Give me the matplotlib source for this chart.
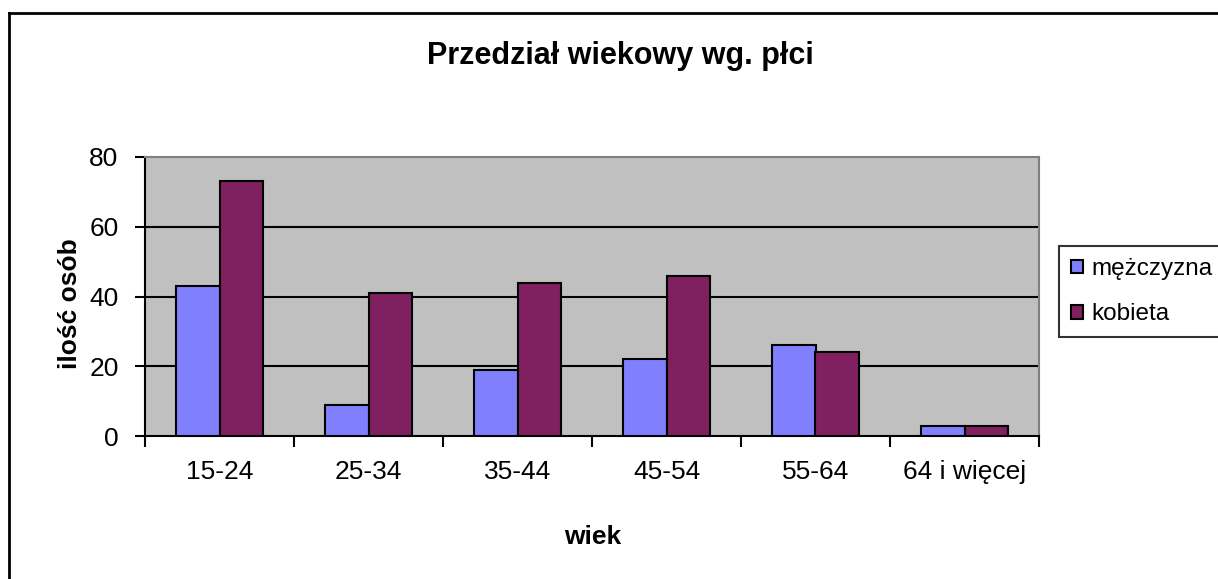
import matplotlib.pyplot as plt
import numpy as np
from matplotlib.lines import Line2D

# age groups and counts
categories = ["15-24", "25-34", "35-44", "45-54", "55-64", "64 i więcej"]
men = [43, 9, 19, 22, 26, 3]
women = [73, 41, 44, 46, 24, 3]
yticks = [0, 20, 40, 60, 80]

plt.rcParams['font.family'] = ['Liberation Sans', 'DejaVu Sans']

W, H = 1218, 579
fig = plt.figure(figsize=(W / 100, H / 100), dpi=100)
ax = fig.add_axes([145 / W, 1 - 436 / H, (1039 - 145) / W, (436 - 157) / H])
ax.set_facecolor('#C0C0C0')

x = np.arange(len(categories))
w = 0.29                                    # excel gap width ~150%
ax.bar(x - w / 2, men, w, color='#8080FF', edgecolor='black', linewidth=1.5,
       label='mężczyzna', zorder=3)
ax.bar(x + w / 2, women, w, color='#802060', edgecolor='black', linewidth=1.5,
       label='kobieta', zorder=3)

ax.set_xlim(-0.5, len(categories) - 0.5)
ax.set_ylim(0, 80)
ax.set_yticks(yticks)
ax.set_xticks(x)
ax.set_xticklabels(categories)
ax.set_xticks(np.arange(-0.5, len(categories), 1), minor=True)
ax.tick_params(axis='x', which='major', length=0, pad=17, labelsize=19)
ax.tick_params(axis='x', which='minor', length=8, width=1.5, direction='out')
ax.tick_params(axis='y', length=7, width=1.5, direction='out', pad=12, labelsize=19)

for v in yticks[1:-1]:
    ax.axhline(v, color='black', linewidth=1.5, zorder=1)

ax.spines['left'].set_linewidth(1.5)
ax.spines['bottom'].set_linewidth(1.5)
ax.spines['top'].set_color('#808080')
ax.spines['right'].set_color('#808080')
ax.spines['top'].set_linewidth(1.5)
ax.spines['right'].set_linewidth(1.5)

fig.text(620 / W, 1 - 56 / H, "Przedział wiekowy wg. płci", ha='center', va='center',
         fontsize=22, fontweight='bold')
fig.text(593 / W, 1 - 537 / H, "wiek", ha='center', va='center',
         fontsize=19, fontweight='bold')
fig.text(70 / W, 1 - 304 / H, "ilość osób", ha='center', va='center', rotation=90,
         fontsize=19, fontweight='bold')

leg = ax.legend(loc='upper left', bbox_to_anchor=(1059 / W, 1 - 246 / H),
                bbox_transform=fig.transFigure, fontsize=17.5, frameon=True,
                fancybox=False, handlelength=0.5, handleheight=0.5,
                handletextpad=0.35, borderpad=0.5, labelspacing=0.95,
                borderaxespad=0)
leg.get_frame().set_edgecolor('black')
leg.get_frame().set_linewidth(1.5)

# outer chart border (right and bottom fall outside the picture)
fig.add_artist(Line2D([9 / W, 9 / W], [0, 1 - 13 / H], transform=fig.transFigure,
                      color='black', linewidth=2))
fig.add_artist(Line2D([9 / W, 1], [1 - 13 / H, 1 - 13 / H], transform=fig.transFigure,
                      color='black', linewidth=2))

fig.savefig("out.png", dpi=100)
